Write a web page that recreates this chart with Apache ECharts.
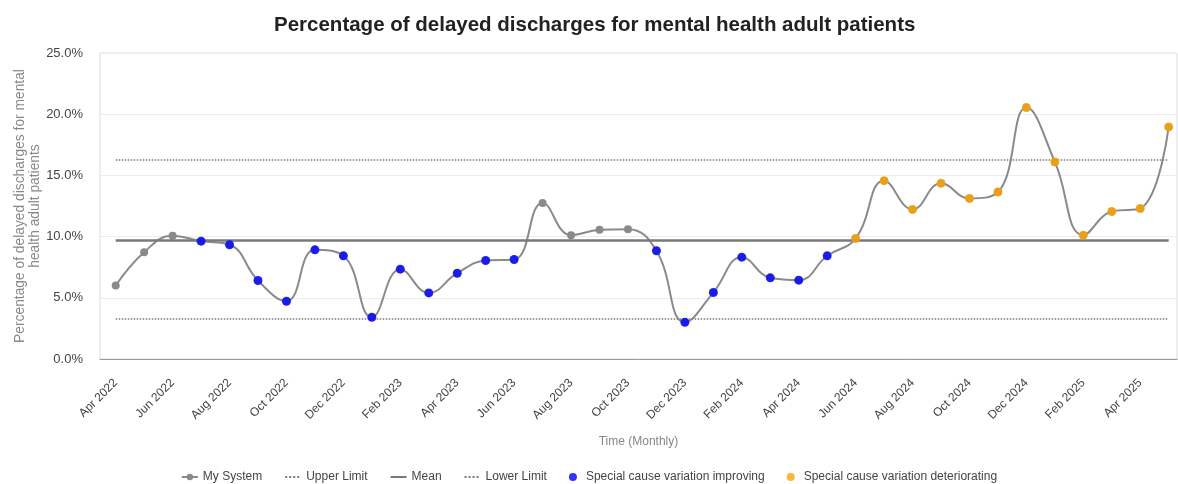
<!DOCTYPE html>
<html>
<head>
<meta charset="utf-8">
<script src="https://cdn.jsdelivr.net/npm/echarts@6/dist/echarts.min.js"></script>
<style>
html,body{margin:0;padding:0;background:#fff;}
#chart{width:1178px;height:484px;}
</style>
</head>
<body>
<div id="chart"></div>
<script>
const titleText = 'Percentage of delayed discharges for mental health adult patients';
const months = [
  'Apr 2022','May 2022','Jun 2022','Jul 2022','Aug 2022','Sep 2022','Oct 2022','Nov 2022','Dec 2022',
  'Jan 2023','Feb 2023','Mar 2023','Apr 2023','May 2023','Jun 2023','Jul 2023','Aug 2023','Sep 2023','Oct 2023','Nov 2023','Dec 2023',
  'Jan 2024','Feb 2024','Mar 2024','Apr 2024','May 2024','Jun 2024','Jul 2024','Aug 2024','Sep 2024','Oct 2024','Nov 2024','Dec 2024',
  'Jan 2025','Feb 2025','Mar 2025','Apr 2025','May 2025'
];
const mySystem = [
  6.0, 8.73, 10.07, 9.63, 9.33, 6.41, 4.72, 8.92, 8.43,
  3.41, 7.34, 5.40, 7.01, 8.05, 8.13, 12.74, 10.12, 10.55, 10.61, 8.84, 3.0,
  5.43, 8.32, 6.63, 6.44, 8.43, 9.85, 14.57, 12.22, 14.35, 13.12, 13.64, 20.54,
  16.1, 10.12, 12.05, 12.3, 18.96
];
const improving = [
  null, null, null, 9.63, 9.33, 6.41, 4.72, 8.92, 8.43,
  3.41, 7.34, 5.40, 7.01, 8.05, 8.13, null, null, null, null, 8.84, 3.0,
  5.43, 8.32, 6.63, 6.44, 8.43, null, null, null, null, null, null, null,
  null, null, null, null, null
];
const deteriorating = [
  null, null, null, null, null, null, null, null, null,
  null, null, null, null, null, null, null, null, null, null, null, null,
  null, null, null, null, null, 9.85, 14.57, 12.22, 14.35, 13.12, 13.64, 20.54,
  16.1, 10.12, 12.05, 12.3, 18.96
];
const upperLimit = 16.28;
const meanValue = 9.74;
const lowerLimit = 3.25;

const FONT = '"Liberation Sans", Arial, sans-serif';
const chart = echarts.init(document.getElementById('chart'), null, {renderer: 'canvas'});

function limitSeries(name, value, type, width, color) {
  return {
    name: name, type: 'line', xAxisIndex: 1, yAxisIndex: 1, data: [],
    symbol: 'none', showSymbol: false, color: color,
    lineStyle: {color: color, type: type, width: width},
    markLine: {
      silent: true, symbol: 'none', label: {show: false},
      lineStyle: {color: color, type: type, width: width},
      data: [{yAxis: value}]
    },
    z: 2
  };
}

const option = {
  backgroundColor: '#fff',
  animation: false,
  textStyle: {fontFamily: FONT},
  title: {
    text: titleText, left: 269, top: 10,
    textStyle: {fontFamily: FONT, fontSize: 20.5, fontWeight: 'bold', color: '#222'}
  },
  legend: {
    bottom: -4, left: 'center', itemGap: 22, itemWidth: 16, itemHeight: 8,
    textStyle: {fontFamily: FONT, fontSize: 12, color: '#444'},
    data: [
      {name: 'My System'},
      {name: 'Upper Limit', itemStyle: {opacity: 0}},
      {name: 'Mean', itemStyle: {opacity: 0}},
      {name: 'Lower Limit', itemStyle: {opacity: 0}},
      {name: 'Special cause variation improving', icon: 'circle'},
      {name: 'Special cause variation deteriorating', icon: 'circle'}
    ]
  },
  grid: [
    {left: 100, right: 1, top: 53, bottom: 125, show: true, borderColor: '#dcdcdc', borderWidth: 1, outerBoundsMode: 'none'},
    {left: 115.7, right: 9.3, top: 53, bottom: 125, outerBoundsMode: 'none'}
  ],
  xAxis: [
    {
      type: 'value', gridIndex: 0, min: 0, max: 1,
      axisLine: {show: true, lineStyle: {color: '#999', width: 1}},
      axisTick: {show: false}, axisLabel: {show: false}, splitLine: {show: false},
      name: 'Time (Monthly)', nameLocation: 'middle', nameGap: 77, nameMoveOverlap: false,
      nameTextStyle: {fontFamily: FONT, fontSize: 12, color: '#888'}
    },
    {
      type: 'category', gridIndex: 1, data: months, boundaryGap: false,
      axisLine: {show: false}, axisTick: {show: false}, splitLine: {show: false},
      axisLabel: {interval: 1, rotate: 45, margin: 22, fontFamily: FONT, fontSize: 12, color: '#444'}
    }
  ],
  yAxis: [
    {
      type: 'value', gridIndex: 0, min: 0, max: 25, interval: 5,
      axisLine: {show: false}, axisTick: {show: false},
      axisLabel: {margin: 17, fontFamily: FONT, fontSize: 13, color: '#444', formatter: v => v.toFixed(1) + '%'},
      splitLine: {show: true, lineStyle: {color: '#ececec', width: 1}},
      name: 'Percentage of delayed discharges for mental\nhealth adult patients',
      nameLocation: 'middle', nameGap: 57, nameRotate: 90, nameMoveOverlap: false,
      nameTextStyle: {fontFamily: FONT, fontSize: 13.8, color: '#888', lineHeight: 15, align: 'center'}
    },
    {
      type: 'value', gridIndex: 1, min: 0, max: 25, interval: 5,
      axisLine: {show: false}, axisTick: {show: false}, axisLabel: {show: false}, splitLine: {show: false}
    }
  ],
  series: [
    {
      name: 'My System', type: 'line', xAxisIndex: 1, yAxisIndex: 1, data: mySystem,
      smooth: 0.45, symbol: 'circle', symbolSize: 8, showSymbol: true,
      color: '#8a8a8a',
      lineStyle: {color: '#8a8a8a', width: 2},
      itemStyle: {color: '#8a8a8a'},
      z: 3
    },
    limitSeries('Upper Limit', upperLimit, 'dotted', 1.5, '#7a7a7a'),
    limitSeries('Mean', meanValue, 'solid', 2.5, '#7a7a7a'),
    limitSeries('Lower Limit', lowerLimit, 'dotted', 1.5, '#7a7a7a'),
    {
      name: 'Special cause variation improving', type: 'scatter', xAxisIndex: 1, yAxisIndex: 1,
      data: improving, symbol: 'circle', symbolSize: 9, color: '#0000ff',
      itemStyle: {color: '#0000ff'}, z: 5
    },
    {
      name: 'Special cause variation deteriorating', type: 'scatter', xAxisIndex: 1, yAxisIndex: 1,
      data: deteriorating, symbol: 'circle', symbolSize: 9, color: '#ffa500',
      itemStyle: {color: '#ffa500'}, z: 5
    }
  ]
};
chart.setOption(option);
</script>
</body>
</html>
